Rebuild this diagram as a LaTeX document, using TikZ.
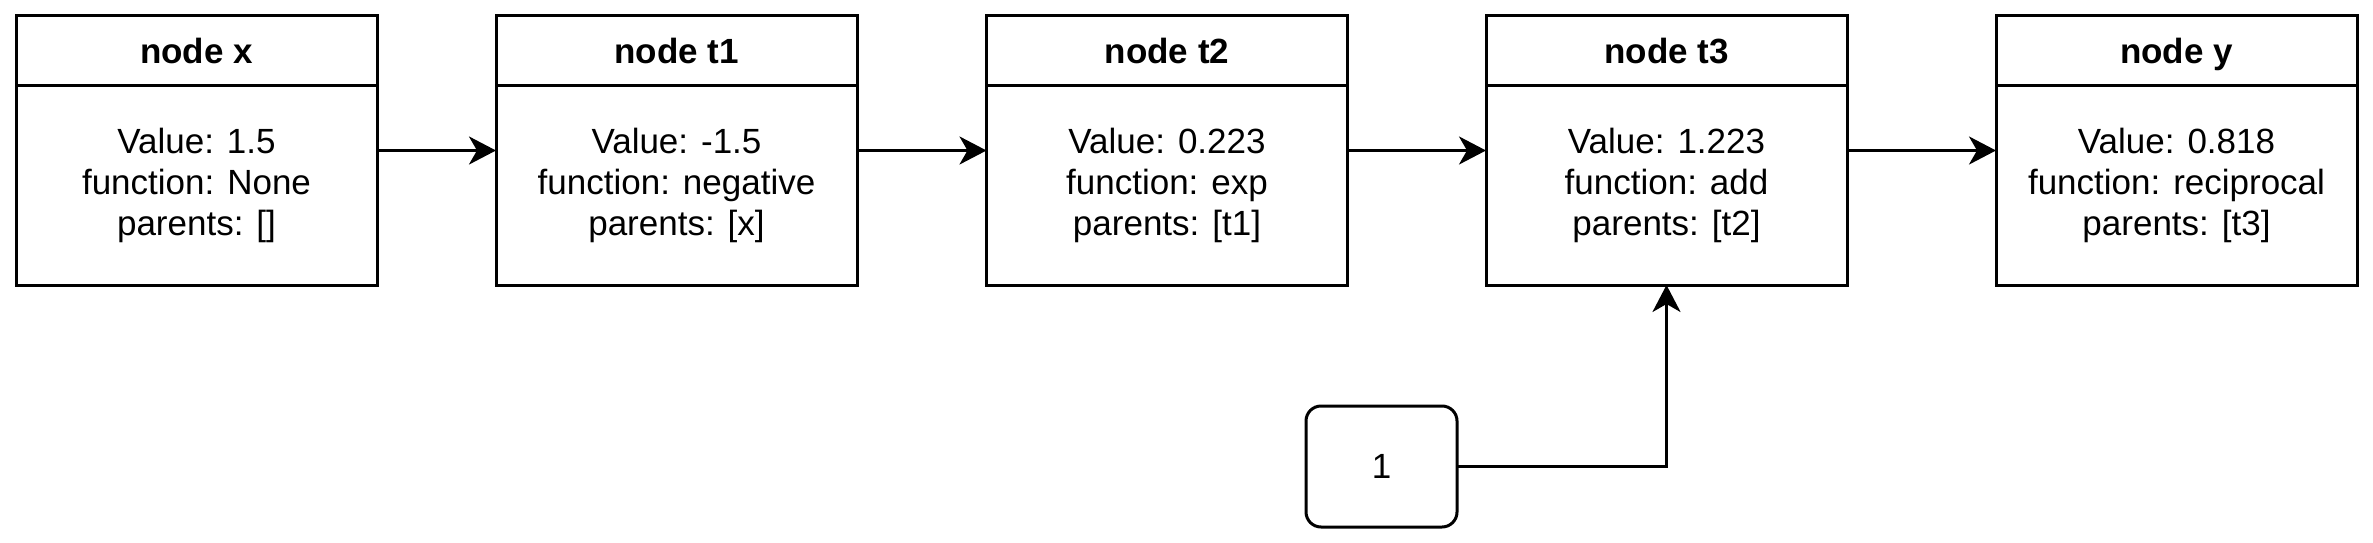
\documentclass[tikz,border=0pt]{standalone}
\usepackage{fontspec}
\setmainfont{Liberation Sans}
\usetikzlibrary{arrows.meta}
\begin{document}
\begin{tikzpicture}[x=1pt,y=-1pt,
  every node/.style={inner sep=0pt,outer sep=0pt},
  classbox/.style={draw=black,line width=3pt,minimum width=361pt,minimum height=269pt},
  headtext/.style={font=\bfseries\fontsize{35}{41}\selectfont,anchor=base},
  bodytext/.style={font=\fontsize{35}{41}\selectfont,align=center},
  constbox/.style={draw=black,line width=3pt,rounded corners=15pt,minimum width=151pt,minimum height=121pt,font=\fontsize{35}{41}\selectfont},
  conn/.style={line width=3pt,-{Stealth[length=27pt,width=28pt,inset=8pt]}}
]
\useasboundingbox (0,0) rectangle (2373,543);
\foreach \nm/\cx/\ttl/\val/\fn/\prn in {
  x/196.5/node x/1.5/None/{[]},
  t1/676.5/node t1/-1.5/negative/{[x]},
  t2/1167/node t2/0.223/exp/{[t1]},
  t3/1666.5/node t3/1.223/add/{[t2]},
  y/2176.5/node y/0.818/reciprocal/{[t3]}}{
  \node[classbox] (\nm) at (\cx,150.5) {};
  \draw[line width=3pt] (\nm.west |- 0,85) -- (\nm.east |- 0,85);
  \node[headtext] (\nm-h) at (\cx,63.5) {\ttl};
  \node[bodytext] (\nm-b) at (\cx,185) {Value: \val\\function: \fn\\parents: \prn};
}
\node[constbox] (one) at (1381.5,466.5) {1};
\draw[conn] (x) -- (t1);
\draw[conn] (t1) -- (t2);
\draw[conn] (t2) -- (t3);
\draw[conn] (t3) -- (y);
\draw[conn] (one.east) -| (t3.south);
\end{tikzpicture}
\end{document}
